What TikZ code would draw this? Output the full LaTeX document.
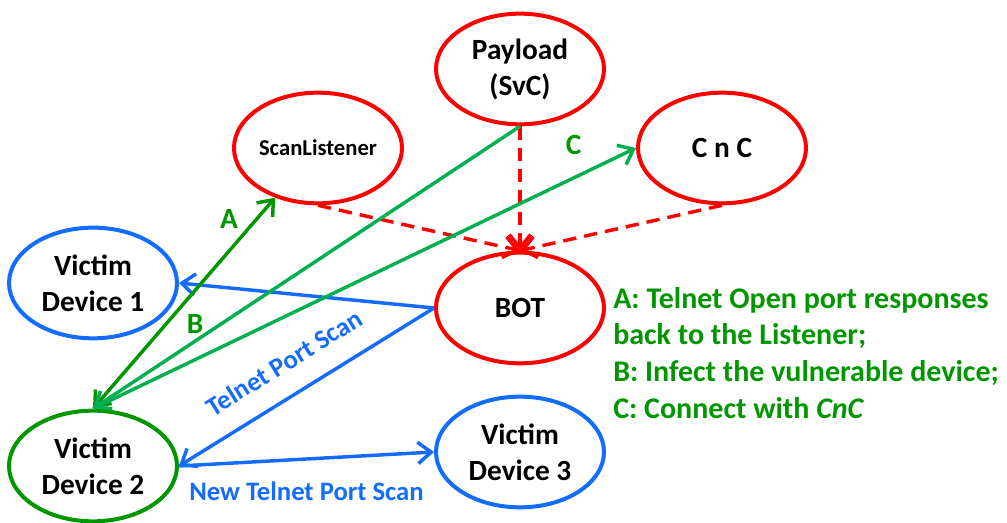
\documentclass[tikz,border=0pt]{standalone}
\usepackage{fontspec}
\setmainfont{Carlito}
\usetikzlibrary{shapes.geometric,arrows.meta}
\definecolor{botred}{RGB}{255,0,0}
\definecolor{scanblue}{RGB}{20,108,255}
\definecolor{darkgreen}{RGB}{0,150,0}
\definecolor{lightgreen}{RGB}{0,176,80}

\begin{document}
\begin{tikzpicture}[
     % one unit is one pixel of the drawing
     x=0.75pt, y=-0.75pt,
     % define styles
     host/.style={
         draw, ellipse, line width=3pt, inner sep=0pt,
         minimum width=126pt, minimum height=83pt,
         align=center, font=\bfseries\fontsize{22}{27}\selectfont
     },
     server/.style={host, draw=botred},
     victim/.style={host, draw=scanblue},
     infected/.style={host, draw=darkgreen},
     drop/.style={botred, line width=2.6pt, dash pattern=on 10pt off 6pt},
     scanline/.style={scanblue, line width=2.6pt},
     darkline/.style={darkgreen, line width=2.6pt},
     lightline/.style={lightgreen, line width=2.6pt},
     steplabel/.style={inner sep=0pt, text=darkgreen,
         font=\bfseries\fontsize{22}{27}\selectfont},
     scanlabel/.style={inner sep=0pt, text=scanblue,
         font=\bfseries\fontsize{20}{24}\selectfont},
     >={Straight Barb[length=10pt,width=16pt]}
]
\useasboundingbox (0,0) rectangle (1007,523);

% servers
\node[server] (pay) at (520,69) {Payload\\(SvC)};
\node[server, font=\bfseries\fontsize{17}{20}\selectfont] (listener) at (318,148) {ScanListener};
\node[server] (cnc) at (722,148) {C n C};
\node[server] (bot) at (520,308) {BOT};

% victims
\node[victim] (vd1) at (93,283) {Victim\\Device 1};
\node[infected] (vd2) at (93,466) {Victim\\Device 2};
\node[victim] (vd3) at (520,452) {Victim\\Device 3};

% dashed lines into the BOT
\foreach \src in {pay,listener,cnc}
    \draw[drop,->] (\src.south) -- (bot.north);

% scans sent by the BOT and by the infected device
\draw[scanline,->] (bot.west) -- (vd1.east);
\draw[scanline,<-] (vd2.east) -- node[scanlabel, sloped, pos=0.48, above=16pt] (lblscan) {Telnet Port Scan} (bot.west);
\draw[scanline,->] (vd2.east) -- node[scanlabel, below=16pt] (lblnew) {New Telnet Port Scan} (vd3.west);

% infection steps A, B, C
\draw[darkline,<->] (vd2.north) -- node[steplabel, pos=0.9, left=13pt] (lbla) {A} (listener);
\draw[lightline,->] (pay.south) -- node[steplabel, pos=0.7, left=12pt] (lblb) {B} (vd2.north);
\draw[lightline,->] (vd2.north) -- node[steplabel, pos=0.885, above=16pt] (lblc) {C} (cnc.west);

% legend
\node[anchor=north west, align=left, inner sep=0pt, text=darkgreen,
      font=\bfseries\fontsize{22.5}{27.5}\selectfont] (legend) at (613,287)
    {A: Telnet Open port responses\\back to the Listener;\\B: Infect the vulnerable device;\\C: Connect with \textit{CnC}};
\end{tikzpicture}
\end{document}
